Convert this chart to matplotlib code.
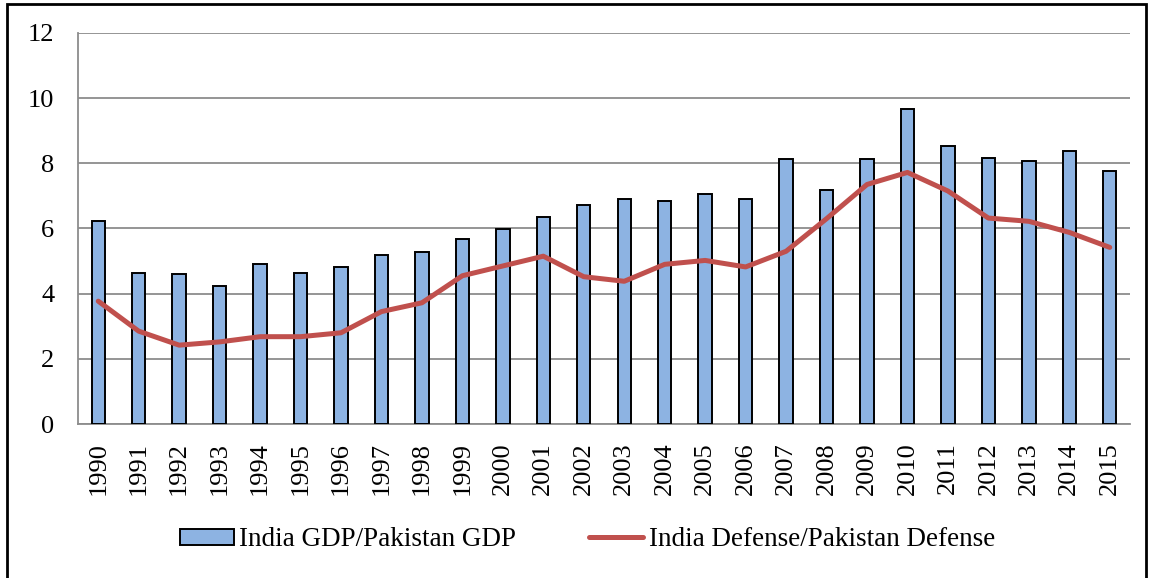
import matplotlib.pyplot as plt
from matplotlib.patches import Rectangle

# years on the category axis
years = [str(y) for y in range(1990, 2016)]

# India GDP / Pakistan GDP (bars)
gdp_ratio = [6.23, 4.63, 4.60, 4.22, 4.90, 4.62, 4.82, 5.18, 5.27, 5.67,
             5.98, 6.35, 6.72, 6.90, 6.84, 7.05, 6.92, 8.13, 7.17, 8.13,
             9.66, 8.53, 8.15, 8.06, 8.38, 7.76]

# India defense / Pakistan defense (line)
defense_ratio = [3.77, 2.85, 2.42, 2.52, 2.68, 2.68, 2.80, 3.45, 3.72, 4.55,
                 4.85, 5.15, 4.52, 4.38, 4.90, 5.02, 4.82, 5.30, 6.30, 7.35,
                 7.72, 7.15, 6.32, 6.22, 5.88, 5.42]

yticks = [0, 2, 4, 6, 8, 10, 12]

plt.rcParams['font.family'] = ['Liberation Serif', 'DejaVu Serif']

fig = plt.figure(figsize=(11.54, 5.78), dpi=100)
ax = fig.add_axes([0.0676, 0.2664, 0.9116, 0.6766])

x = list(range(len(years)))
bars = ax.bar(x, gdp_ratio, width=0.33, color='#8DB3E2', edgecolor='black',
              linewidth=1.4, label='India GDP/Pakistan GDP', zorder=3)
line, = ax.plot(x, defense_ratio, color='#C0504D', linewidth=3.6,
                solid_capstyle='round', solid_joinstyle='round',
                label='India Defense/Pakistan Defense', zorder=4)

ax.set_xlim(-0.5, len(years) - 0.5)
ax.set_ylim(0, 12)
ax.set_yticks(yticks)
ax.set_yticklabels([str(v) for v in yticks], fontsize=19)
ax.set_xticks(x)
ax.set_xticklabels(years, rotation=90, fontsize=19)
ax.tick_params(axis='y', length=0, pad=17)
ax.tick_params(axis='x', length=0, pad=13)

ax.grid(axis='y', color='#8c8c8c', linewidth=1.3, zorder=0)
for side in ['top', 'right']:
    ax.spines[side].set_visible(False)
for side in ['left', 'bottom']:
    ax.spines[side].set_color('#8c8c8c')
    ax.spines[side].set_linewidth(1.3)

fig.legend([bars, line], ['India GDP/Pakistan GDP', 'India Defense/Pakistan Defense'],
           loc='center', bbox_to_anchor=(0.509, 0.066), ncol=2,
           frameon=False, fontsize=19.5, handlelength=2.0, handleheight=0.55,
           handletextpad=0.2, columnspacing=2.7)

# outer frame around the chart
fig.patches.append(Rectangle((0.006, -0.01), 0.987, 1.003,
                             transform=fig.transFigure, fill=False,
                             edgecolor='black', linewidth=2))

fig.savefig('out.png', dpi=100)
